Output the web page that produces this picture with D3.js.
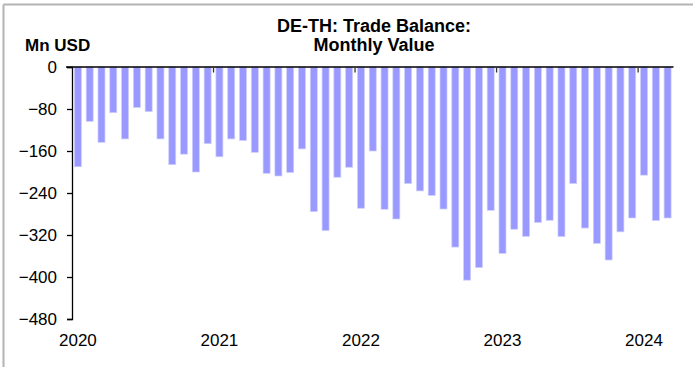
<!DOCTYPE html>
<html>
<head>
<meta charset="utf-8">
<script src="https://cdn.jsdelivr.net/npm/d3@7"></script>
<style>
  html, body { margin: 0; padding: 0; background: #fff; }
  svg { display: block; font-family: "Liberation Sans", Arial, sans-serif; }
</style>
</head>
<body>
<svg id="chart" width="693" height="367"></svg>
<script>
const months = [
  "2020-01","2020-02","2020-03","2020-04","2020-05","2020-06","2020-07","2020-08","2020-09","2020-10","2020-11","2020-12",
  "2021-01","2021-02","2021-03","2021-04","2021-05","2021-06","2021-07","2021-08","2021-09","2021-10","2021-11","2021-12",
  "2022-01","2022-02","2022-03","2022-04","2022-05","2022-06","2022-07","2022-08","2022-09","2022-10","2022-11","2022-12",
  "2023-01","2023-02","2023-03","2023-04","2023-05","2023-06","2023-07","2023-08","2023-09","2023-10","2023-11","2023-12",
  "2024-01","2024-02","2024-03"
];
const tradeBalance = [
  -190, -103.5, -143.5, -87, -137, -77, -85, -137, -186, -166, -200, -146,
  -171, -137, -140, -162.5, -202.5, -207.6, -201, -156, -275.5, -311.7, -210, -191,
  -269, -160, -271, -289.5, -222, -236, -244.5, -270.5, -343, -406, -382, -273,
  -355, -309, -322.5, -296, -292, -323, -222, -306.7, -336, -367.6, -314, -287.6,
  -206, -292.6, -287.6
];
const yTicks = [0, -80, -160, -240, -320, -400, -480];
const yearLabels = ["2020", "2021", "2022", "2023", "2024"];
const titleLines = ["DE-TH: Trade Balance:", "Monthly Value"];
const unitLabel = "Mn USD";

(function () {
const svg = d3.select("#chart");

// frame
svg.append("line").attr("x1", 3.5).attr("x2", 693).attr("y1", 4.5).attr("y2", 4.5)
  .attr("stroke", "#b3b3b3").attr("stroke-width", 2);
svg.append("line").attr("x1", 3.5).attr("x2", 3.5).attr("y1", 4.5).attr("y2", 367)
  .attr("stroke", "#b3b3b3").attr("stroke-width", 2);

const plotLeft = 72, plotRight = 673.5, plotTop = 67, plotBottom = 319;
const x = d3.scaleLinear().domain([0, months.length]).range([plotLeft, plotRight]);
const y = d3.scaleLinear().domain([-480, 0]).range([plotBottom, plotTop]);

// bars
const bw = 7;
svg.append("g").selectAll("rect").data(tradeBalance).join("rect")
  .attr("x", (d, i) => x(i + 0.5) - bw / 2)
  .attr("width", bw)
  .attr("y", y(0))
  .attr("height", d => y(d) - y(0))
  .attr("fill", "#9999ff")
  .attr("stroke", "#cfcfff")
  .attr("stroke-width", 0.7);

// y axis
const yAxis = svg.append("g").attr("transform", `translate(${plotLeft},0)`)
  .call(d3.axisLeft(y).tickValues(yTicks).tickSize(5).tickPadding(10).tickFormat(d3.format("d")));
yAxis.select(".domain").attr("stroke", "#000").attr("stroke-width", 1.3);
yAxis.selectAll(".tick line").attr("stroke", "#000").attr("stroke-width", 1.3);
yAxis.selectAll(".tick text").attr("font-size", "17px").attr("fill", "#000")
  .attr("font-family", "Liberation Sans, Arial, sans-serif");

// x axis at zero line
const yearStarts = yearLabels.map(yl => months.indexOf(yl + "-01"));
svg.append("line").attr("x1", plotLeft - 6).attr("x2", plotRight)
  .attr("y1", y(0)).attr("y2", y(0)).attr("stroke", "#000").attr("stroke-width", 1.5);
svg.append("g").selectAll("line").data(yearStarts.slice(1)).join("line")
  .attr("x1", d => x(d)).attr("x2", d => x(d))
  .attr("y1", y(0)).attr("y2", y(0) + 5.5)
  .attr("stroke", "#333").attr("stroke-width", 1.3);

// year labels
svg.append("g").selectAll("text").data(yearLabels).join("text")
  .attr("x", (d, i) => x(yearStarts[i] + 0.5))
  .attr("y", 345.5)
  .attr("text-anchor", "middle")
  .attr("font-size", "17px")
  .attr("fill", "#000")
  .text(d => d);

// title
svg.append("g").selectAll("text").data(titleLines).join("text")
  .attr("x", 374)
  .attr("y", (d, i) => 31.5 + i * 19.5)
  .attr("text-anchor", "middle")
  .attr("font-size", "18px")
  .attr("font-weight", "bold")
  .attr("fill", "#000")
  .text(d => d);

// unit label
svg.append("text").attr("x", 25).attr("y", 50.7)
  .attr("font-size", "17px").attr("font-weight", "bold").attr("fill", "#000")
  .text(unitLabel);
})();
</script>
</body>
</html>
